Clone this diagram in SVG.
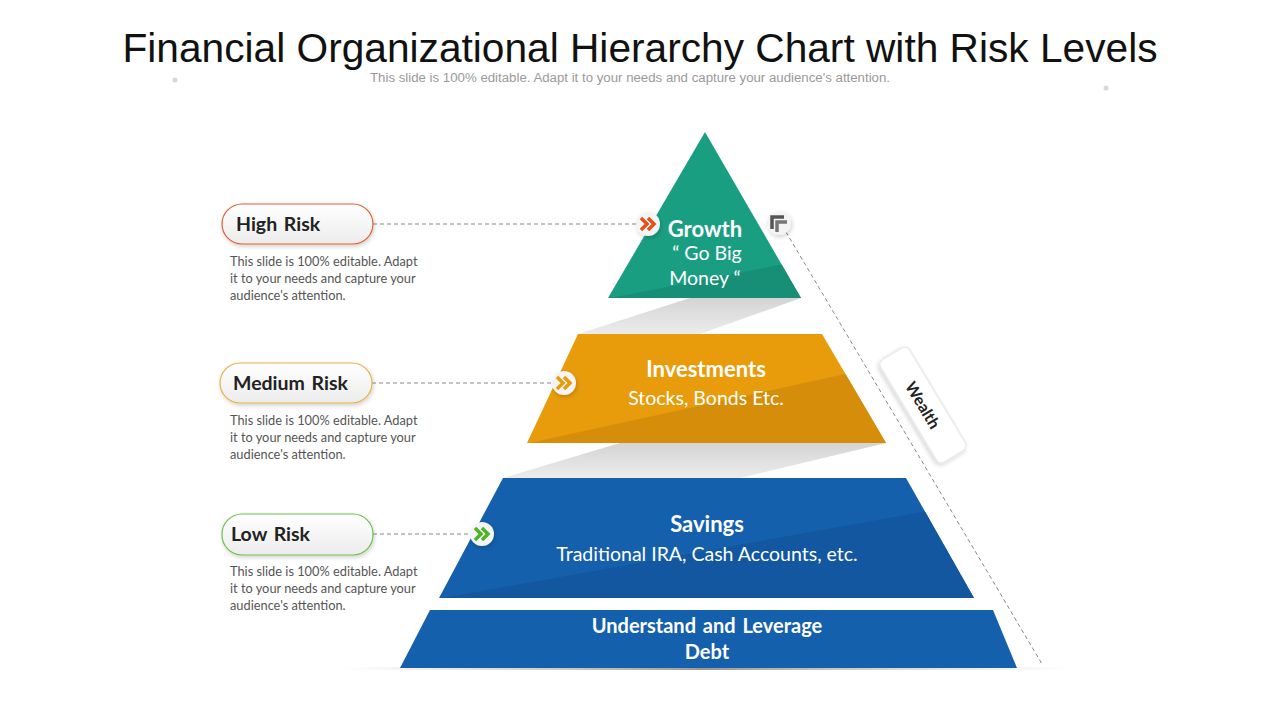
<svg xmlns="http://www.w3.org/2000/svg" width="1280" height="720" viewBox="0 0 1280 720">
<defs>
<style>
.title{font-family:"Liberation Sans",Arial,sans-serif;font-size:40px;fill:#111;}
.sub{font-family:"Liberation Sans",Arial,sans-serif;font-size:12px;fill:#9a9a9a;}
.pill{font-family:Lato,"Noto Sans",sans-serif;font-size:19.5px;font-weight:bold;fill:#222;word-spacing:2px;}
.desc{font-family:Lato,"Noto Sans",sans-serif;font-size:12.8px;fill:#555;}
.hd{font-family:Lato,"Noto Sans",sans-serif;font-size:22px;font-weight:bold;fill:#fff;text-anchor:middle;}
.bd{font-family:Lato,"Noto Sans",sans-serif;font-size:19.5px;fill:#fff;text-anchor:middle;}
.dash{stroke:#888;stroke-width:1;stroke-dasharray:4 3;fill:none;}
.chev{fill:none;stroke-width:3.5;stroke-linejoin:miter;stroke-linecap:butt;}
</style>
<linearGradient id="pillg" x1="0" y1="0" x2="0" y2="1">
<stop offset="0" stop-color="#ffffff"/>
<stop offset="1" stop-color="#ececec"/>
</linearGradient>
<linearGradient id="grayband" x1="0" y1="0" x2="0" y2="1">
<stop offset="0" stop-color="#d4d4d4"/>
<stop offset="1" stop-color="#ececec"/>
</linearGradient>
<filter id="sh" x="-20%" y="-30%" width="140%" height="170%">
<feDropShadow dx="1" dy="2" stdDeviation="2" flood-color="#000" flood-opacity="0.18"/>
</filter>
<linearGradient id="baseSh" x1="0" y1="0" x2="1" y2="0">
<stop offset="0" stop-color="#bbb" stop-opacity="0"/>
<stop offset="0.5" stop-color="#999"/>
<stop offset="1" stop-color="#bbb" stop-opacity="0"/>
</linearGradient>
<clipPath id="cTri"><polygon points="705,132 801,298 608,298"/></clipPath>
<clipPath id="cInv"><polygon points="578,334 822,334 886,443 527,443"/></clipPath>
<clipPath id="cSav"><polygon points="503,478 906,478 974,598 439,598"/></clipPath>
</defs>
<rect width="1280" height="720" fill="#fff"/>

<g id="header">
<text class="title" x="640" y="62" text-anchor="middle" textLength="1035" lengthAdjust="spacingAndGlyphs">Financial Organizational Hierarchy Chart with Risk Levels</text>
<text class="sub" x="630" y="82" text-anchor="middle" textLength="520" lengthAdjust="spacingAndGlyphs">This slide is 100% editable. Adapt it to your needs and capture your audience's attention.</text>
<circle cx="175" cy="80" r="2.5" fill="#d8d8d8"/>
<circle cx="1106" cy="88" r="2.5" fill="#d8d8d8"/>
</g>

<g id="bands">
<polygon points="690,298 801,298 700,334 578,334" fill="url(#grayband)"/>
<polygon points="620,443 886,443 740,478 503,478" fill="url(#grayband)"/>
<rect x="340" y="667" width="730" height="3" fill="url(#baseSh)"/>
</g>

<g id="growth">
<polygon points="705,132 801,298 608,298" fill="#1a9e82"/>
<polygon points="600,300 830,255 830,300" fill="#178f76" clip-path="url(#cTri)"/>
<text class="hd" x="705" y="237">Growth</text>
<text class="bd" x="707" y="260">“ Go Big</text>
<text class="bd" x="705" y="285">Money “</text>
</g>

<g id="investments">
<polygon points="578,334 822,334 886,443 527,443" fill="#e89c0c"/>
<polygon points="520,445 900,362 900,445" fill="#d68d0a" clip-path="url(#cInv)"/>
<text class="hd" x="706" y="377">Investments</text>
<text class="bd" x="706" y="405">Stocks, Bonds Etc.</text>
</g>

<g id="savings">
<polygon points="503,478 906,478 974,598 439,598" fill="#1460ad"/>
<polygon points="432,600 990,500 990,600" fill="#12579f" clip-path="url(#cSav)"/>
<text class="hd" x="707" y="532">Savings</text>
<text class="bd" x="707" y="561">Traditional IRA, Cash Accounts, etc.</text>
</g>

<g id="debt">
<polygon points="430,610 993,610 1017,668 400,668" fill="#1460ad"/>
<text class="hd" x="707" y="633" style="font-size:20px;word-spacing:2px">Understand and Leverage</text>
<text class="hd" x="707" y="659" style="font-size:20px">Debt</text>
</g>

<g id="connectors">
<line class="dash" x1="373" y1="224" x2="637" y2="224"/>
<line class="dash" x1="372" y1="383" x2="552" y2="383"/>
<line class="dash" x1="373" y1="534" x2="470" y2="534"/>
<line class="dash" x1="786" y1="232" x2="1042" y2="664"/>
</g>

<g id="high-risk">
<rect x="222" y="204" width="151" height="40" rx="20" fill="url(#pillg)" stroke="#e0602c" stroke-width="1.2" filter="url(#sh)"/>
<text class="pill" x="236" y="231">High Risk</text>
<text class="desc" x="230" y="266">This slide is 100% editable. Adapt</text>
<text class="desc" x="230" y="283">it to your needs and capture your</text>
<text class="desc" x="230" y="300">audience's attention.</text>
<circle cx="648" cy="224" r="12" fill="#f4f4f4" filter="url(#sh)"/>
<polyline class="chev" stroke="#e2531b" points="641,218 647,224 641,230"/>
<polyline class="chev" stroke="#e2531b" points="648,218 654,224 648,230"/>
</g>

<g id="medium-risk">
<rect x="220" y="363" width="152" height="40" rx="20" fill="url(#pillg)" stroke="#e8b040" stroke-width="1.2" filter="url(#sh)"/>
<text class="pill" x="233" y="390">Medium Risk</text>
<text class="desc" x="230" y="425">This slide is 100% editable. Adapt</text>
<text class="desc" x="230" y="442">it to your needs and capture your</text>
<text class="desc" x="230" y="459">audience's attention.</text>
<circle cx="564" cy="383" r="12" fill="#f4f4f4" filter="url(#sh)"/>
<polyline class="chev" stroke="#e89c0c" points="557,377 563,383 557,389"/>
<polyline class="chev" stroke="#e89c0c" points="564,377 570,383 564,389"/>
</g>

<g id="low-risk">
<rect x="222" y="514" width="151" height="41" rx="20" fill="url(#pillg)" stroke="#6cbf4a" stroke-width="1.2" filter="url(#sh)"/>
<text class="pill" x="231" y="541">Low Risk</text>
<text class="desc" x="230" y="576">This slide is 100% editable. Adapt</text>
<text class="desc" x="230" y="593">it to your needs and capture your</text>
<text class="desc" x="230" y="610">audience's attention.</text>
<circle cx="482" cy="534" r="12" fill="#f4f4f4" filter="url(#sh)"/>
<polyline class="chev" stroke="#4db328" points="475,528 481,534 475,540"/>
<polyline class="chev" stroke="#4db328" points="482,528 488,534 482,540"/>
</g>

<g id="wealth">
<circle cx="779" cy="223" r="12" fill="#f4f4f4" filter="url(#sh)"/>
<polyline class="chev" stroke="#555" points="772,229 772,217 784,217"/>
<polyline class="chev" stroke="#777" points="777,232 777,222 787,222"/>
<g transform="translate(923,405) rotate(59)">
<rect x="-60" y="-17" width="120" height="34" rx="6" fill="#fff" stroke="#ddd" stroke-width="1" filter="url(#sh)"/>
<text x="0" y="6" text-anchor="middle" style="font-family:Lato,'Noto Sans',sans-serif;font-size:16px;font-weight:bold;fill:#222">Wealth</text>
</g>
</g>
</svg>
